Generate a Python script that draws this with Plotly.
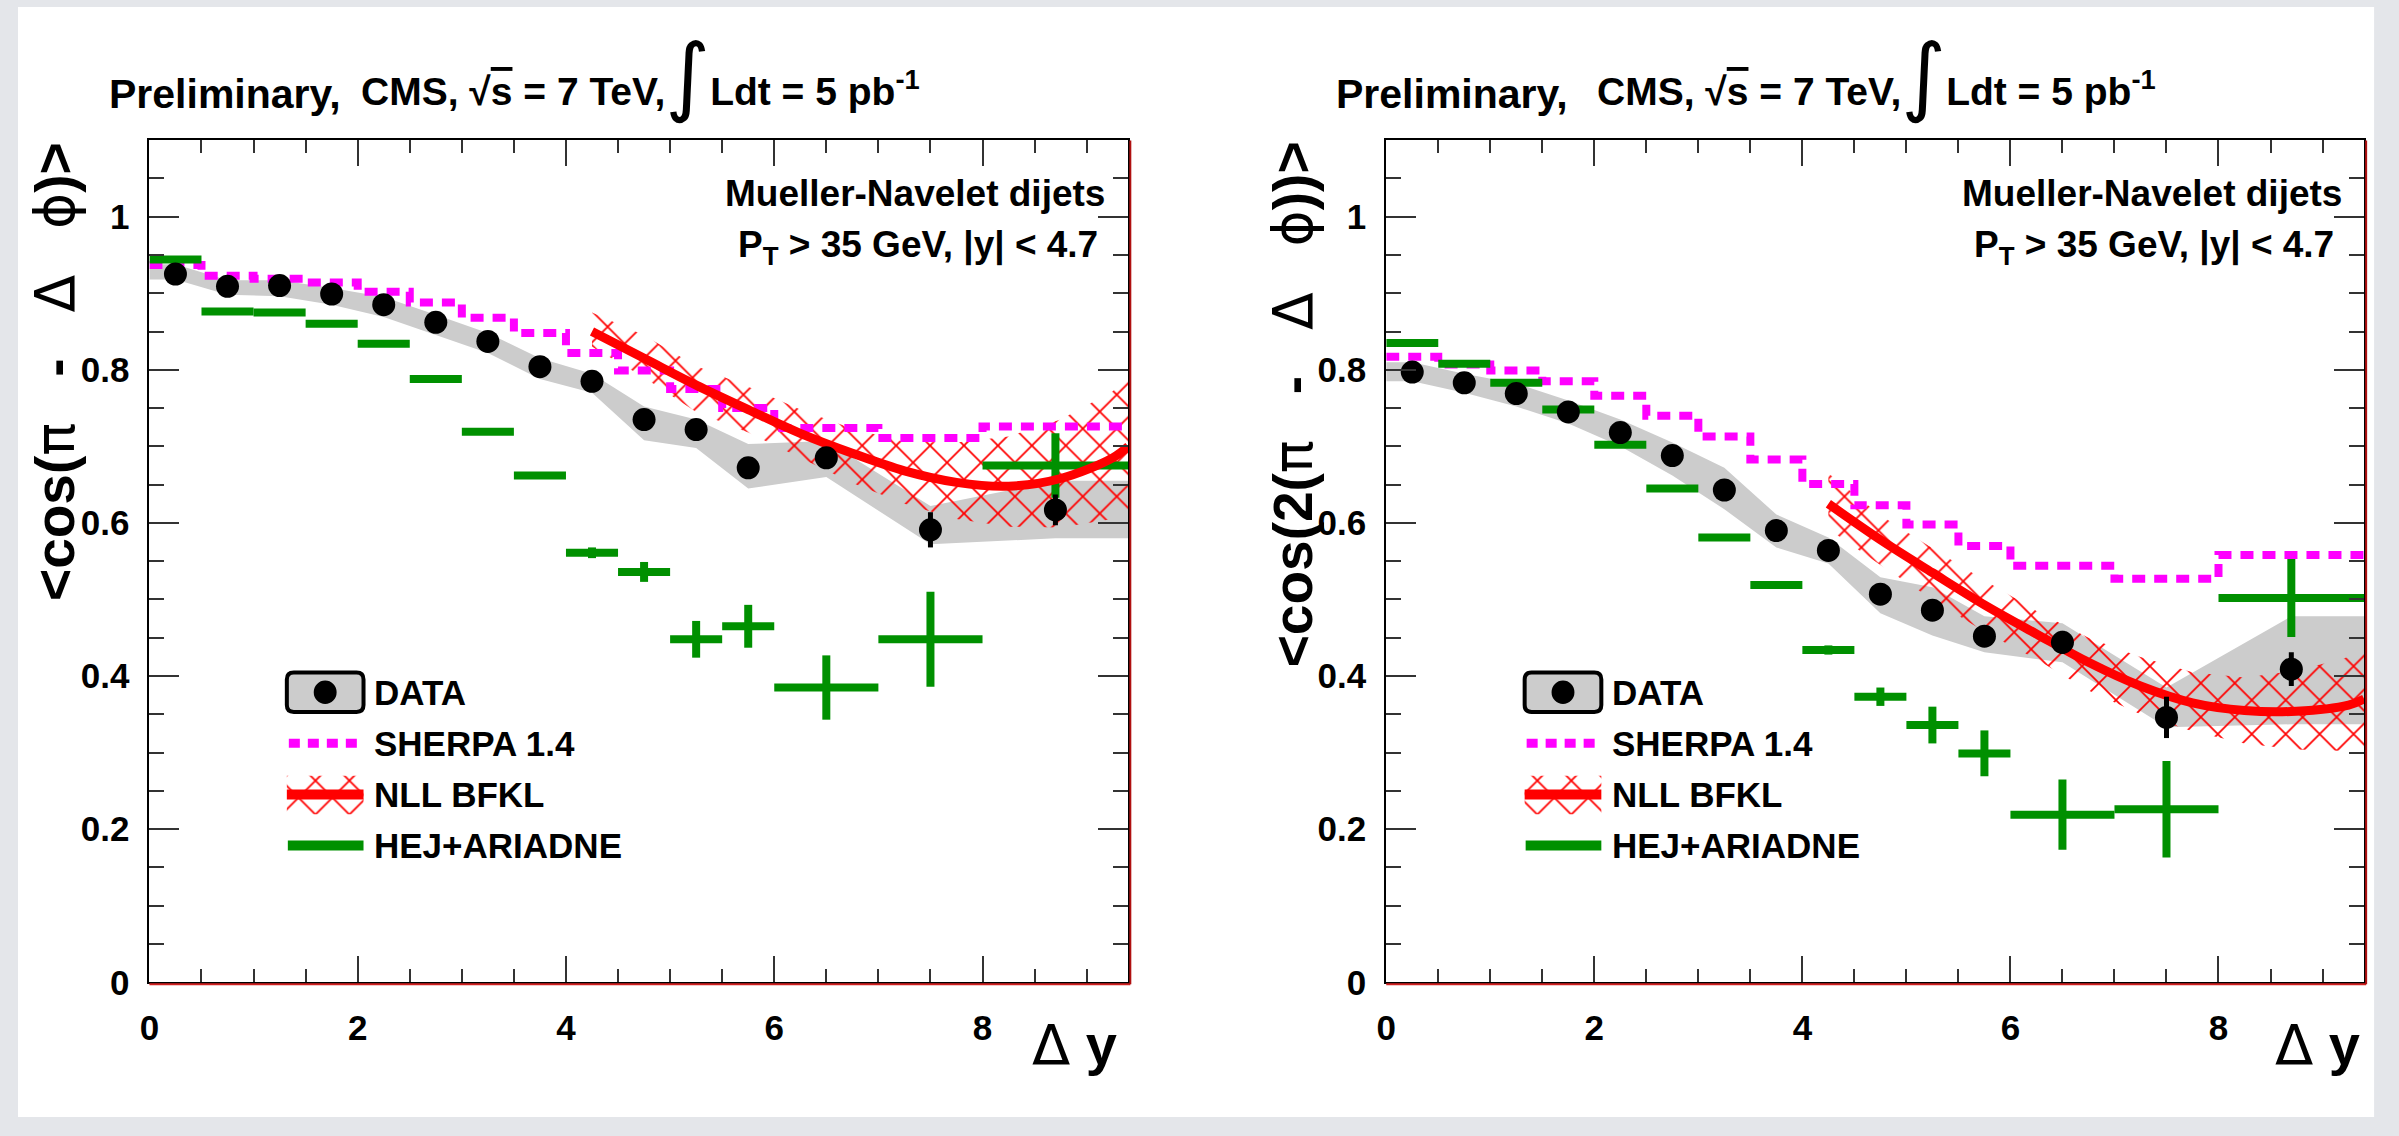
import plotly.graph_objects as go

W, H = 2399, 1136

# ------------------------------------------------------------------ data
bin_edges = [0, 0.5, 1, 1.5, 2, 2.5, 3, 3.5, 4, 4.5, 5, 5.5, 6, 7, 8, 9.4]

# left panel  <cos(pi - dphi)>
data1 = [0.925, 0.909, 0.910, 0.899, 0.885, 0.862, 0.837, 0.804, 0.785, 0.735, 0.722, 0.672, 0.685, 0.591, 0.617]
data1_err = [0.004, 0.004, 0.004, 0.004, 0.004, 0.005, 0.005, 0.005, 0.006, 0.007, 0.008, 0.009, 0.010, 0.023, 0.020]
sys1_up = [0.938, 0.917, 0.917, 0.907, 0.895, 0.872, 0.848, 0.815, 0.795, 0.752, 0.735, 0.703, 0.707, 0.622, 0.655]
sys1_lo = [0.918, 0.898, 0.896, 0.885, 0.869, 0.846, 0.822, 0.788, 0.770, 0.708, 0.698, 0.645, 0.660, 0.572, 0.580]
sherpa1 = [0.937, 0.923, 0.919, 0.914, 0.902, 0.888, 0.868, 0.848, 0.822, 0.799, 0.775, 0.750, 0.724, 0.711, 0.726]
hej1 = [0.944, 0.876, 0.875, 0.860, 0.834, 0.788, 0.719, 0.662, 0.561, 0.536, 0.448, 0.465, 0.385, 0.448, 0.675]
hej1_err = [0.002, 0.002, 0.002, 0.002, 0.002, 0.002, 0.003, 0.003, 0.007, 0.013, 0.024, 0.028, 0.042, 0.062, 0.042]

nll_x = [4.25, 4.75, 5.25, 5.75, 6.25, 6.75, 7.25, 7.75, 8.25, 8.75, 9.25, 9.4]
nll1 = [0.850, 0.815, 0.780, 0.748, 0.717, 0.691, 0.668, 0.653, 0.648, 0.658, 0.685, 0.700]
nll1_up = [0.875, 0.845, 0.805, 0.778, 0.748, 0.723, 0.706, 0.705, 0.713, 0.735, 0.772, 0.790]
nll1_lo = [0.830, 0.790, 0.745, 0.718, 0.685, 0.652, 0.625, 0.605, 0.595, 0.594, 0.605, 0.615]

# right panel  <cos(2(pi - dphi))>
data2 = [0.797, 0.783, 0.769, 0.745, 0.718, 0.688, 0.643, 0.590, 0.564, 0.507, 0.486, 0.452, 0.444, 0.346, 0.409]
data2_err = [0.004, 0.004, 0.004, 0.005, 0.005, 0.005, 0.006, 0.006, 0.007, 0.008, 0.009, 0.010, 0.015, 0.027, 0.022]
sys2_up = [0.810, 0.795, 0.782, 0.760, 0.735, 0.705, 0.672, 0.611, 0.581, 0.529, 0.516, 0.478, 0.469, 0.385, 0.478]
sys2_lo = [0.785, 0.770, 0.752, 0.730, 0.700, 0.662, 0.618, 0.568, 0.547, 0.482, 0.453, 0.431, 0.418, 0.333, 0.337]
sherpa2 = [0.817, 0.807, 0.799, 0.785, 0.766, 0.740, 0.713, 0.683, 0.651, 0.623, 0.598, 0.570, 0.544, 0.527, 0.558]
hej2 = [0.835, 0.808, 0.783, 0.748, 0.702, 0.645, 0.581, 0.519, 0.434, 0.373, 0.336, 0.299, 0.219, 0.226, 0.502]
hej2_err = [0.002, 0.002, 0.002, 0.002, 0.002, 0.002, 0.003, 0.003, 0.006, 0.012, 0.024, 0.030, 0.046, 0.063, 0.051]

nll2 = [0.625, 0.578, 0.535, 0.493, 0.455, 0.418, 0.387, 0.365, 0.355, 0.354, 0.362, 0.370]
nll2_up = [0.665, 0.610, 0.567, 0.525, 0.485, 0.450, 0.425, 0.405, 0.398, 0.407, 0.425, 0.435]
nll2_lo = [0.592, 0.545, 0.500, 0.458, 0.422, 0.381, 0.350, 0.328, 0.312, 0.304, 0.302, 0.305]

legend_labels = ["DATA", "SHERPA 1.4", "NLL BFKL", "HEJ+ARIADNE"]
x_ticks = [0, 2, 4, 6, 8]

# ------------------------------------------------------------------ style
FONT = "Liberation Sans"
GREEN = "#009000"
MAGENTA = "#ff00ff"
RED = "#ff0000"
GREY = "#cccccc"
HATCH = dict(shape="x", fgcolor=RED, bgcolor="rgba(0,0,0,0)", size=24, solidity=0.14, fgopacity=1)

centers = [(bin_edges[i] + bin_edges[i + 1]) / 2 for i in range(len(bin_edges) - 1)]
halfw = [(bin_edges[i + 1] - bin_edges[i]) / 2 for i in range(len(bin_edges) - 1)]
XMIN, XMAX = bin_edges[0], bin_edges[-1]


def px(X):
    return X / W


def py(Y):
    return 1 - Y / H


fig = go.Figure()


def add_panel(ax, data, derr, sup, slo, sherpa, hej, hejerr, nll, nup, nlo):
    xa, ya = ("x", "y") if ax == 1 else ("x2", "y2")
    # systematic band
    bx = [XMIN] + centers + [XMAX, XMAX] + centers[::-1] + [XMIN]
    by = [sup[0]] + sup + [sup[-1], slo[-1]] + slo[::-1] + [slo[0]]
    fig.add_trace(go.Scatter(x=bx, y=by, fill="toself", fillcolor=GREY, line=dict(width=0),
                             mode="lines", hoverinfo="skip", showlegend=False, xaxis=xa, yaxis=ya))
    # NLL BFKL hatched band
    hx = nll_x + nll_x[::-1]
    hy = nup + nlo[::-1]
    fig.add_trace(go.Scatter(x=hx, y=hy, fill="toself", fillcolor="rgba(0,0,0,0)", fillpattern=HATCH,
                             line=dict(width=0), mode="lines", hoverinfo="skip",
                             showlegend=False, xaxis=xa, yaxis=ya))
    # SHERPA histogram
    fig.add_trace(go.Scatter(x=bin_edges, y=sherpa + [sherpa[-1]], mode="lines",
                             line=dict(color=MAGENTA, width=8, dash="13px,9px", shape="hv"),
                             showlegend=False, xaxis=xa, yaxis=ya))
    # HEJ+ARIADNE
    fig.add_trace(go.Scatter(x=centers, y=hej, mode="markers",
                             marker=dict(size=2, color=GREEN),
                             error_x=dict(type="data", array=halfw, color=GREEN, thickness=8, width=0),
                             error_y=dict(type="data", array=hejerr, color=GREEN, thickness=8, width=0),
                             showlegend=False, xaxis=xa, yaxis=ya))
    # NLL BFKL central line
    fig.add_trace(go.Scatter(x=nll_x, y=nll, mode="lines",
                             line=dict(color=RED, width=9, shape="spline"),
                             showlegend=False, xaxis=xa, yaxis=ya))
    # DATA
    fig.add_trace(go.Scatter(x=centers, y=data, mode="markers",
                             marker=dict(size=23, color="black"),
                             error_y=dict(type="data", array=derr, color="black", thickness=5, width=0),
                             showlegend=False, xaxis=xa, yaxis=ya))


add_panel(1, data1, data1_err, sys1_up, sys1_lo, sherpa1, hej1, hej1_err, nll1, nll1_up, nll1_lo)
add_panel(2, data2, data2_err, sys2_up, sys2_lo, sherpa2, hej2, hej2_err, nll2, nll2_up, nll2_lo)

# ------------------------------------------------------------------ axes
ydom = [py(999), py(142.5)]
xdom1 = [px(140), px(1123)]
xdom2 = [px(1382), px(2364)]
tickfont = dict(family=FONT, size=35, color="black", weight="bold")

for i, dom in ((1, xdom1), (2, xdom2)):
    xkey = "xaxis" if i == 1 else "xaxis2"
    ykey = "yaxis" if i == 1 else "yaxis2"
    fig.layout[xkey] = dict(domain=dom, range=[XMIN, XMAX], tickmode="array", tickvals=x_ticks,
                            ticks="inside", ticklen=26, tickwidth=2, tickcolor="#333",
                            minor=dict(tickmode="linear", tick0=0, dtick=0.5, ticks="inside",
                                       ticklen=13, tickwidth=2, tickcolor="#333"),
                            showline=True, linewidth=2, linecolor="black", mirror="ticks",
                            showgrid=False, zeroline=False, tickfont=tickfont,
                            anchor="y" if i == 1 else "y2", ticklabelstandoff=14)
    fig.layout[ykey] = dict(domain=ydom, range=[0, 1.1], tickmode="linear", tick0=0, dtick=0.2,
                            ticks="inside", ticklen=30, tickwidth=2, tickcolor="#333",
                            minor=dict(tickmode="linear", tick0=0, dtick=0.05, ticks="inside",
                                       ticklen=15, tickwidth=2, tickcolor="#333"),
                            showline=True, linewidth=2, linecolor="black", mirror="ticks",
                            showgrid=False, zeroline=False, tickfont=tickfont,
                            anchor="x" if i == 1 else "x2", ticklabelstandoff=11)

# overlay axes in pixel units for legend glyphs
fig.layout["xaxis3"] = dict(domain=[0, 1], range=[0, W], visible=False, anchor="y3")
fig.layout["yaxis3"] = dict(domain=[0, 1], range=[H, 0], visible=False, anchor="x3")

# ------------------------------------------------------------------ shapes / annotations
shapes = []
annots = []

# page background (grey border + white sheet)
shapes.append(dict(type="rect", xref="paper", yref="paper", x0=px(8), x1=px(2374), y0=0, y1=py(7),
                   fillcolor="white", line=dict(width=0), layer="below"))

# red edge lines of the frames (bottom / right)
for x0, x1 in ((140, 1123), (1382, 2364)):
    shapes.append(dict(type="line", xref="paper", yref="paper", x0=px(x0), x1=px(x1 + 2),
                       y0=py(1001), y1=py(1001), line=dict(color="#d02020", width=2)))
    shapes.append(dict(type="line", xref="paper", yref="paper", x0=px(x1 + 2), x1=px(x1 + 2),
                       y0=py(143), y1=py(1001), line=dict(color="#b01010", width=2)))


def ann(X, Y, text, size, xanchor="left", yanchor="middle", family=FONT, weight="bold", angle=0):
    annots.append(dict(x=px(X), y=py(Y), xref="paper", yref="paper", text=text, showarrow=False,
                       xanchor=xanchor, yanchor=yanchor, textangle=angle,
                       font=dict(family=family, size=size, color="black", weight=weight)))


DJ = 'style="font-family:DejaVu Sans;font-weight:normal"'
INT = '<span style="font-family:DejaVu Sans;font-weight:normal;font-size:86px">∫</span>'
SP = "\u00a0\u00a0\u00a0"

for pre_x, cms_x in ((97, 350), (1330, 1592)):
    ann(pre_x, 96, "Preliminary,", 41)
    ann(cms_x, 129, 'CMS, √<span style="text-decoration:overline">s</span> = 7 TeV,' + INT +
        "Ldt = 5 pb<sup>-1</sup>", 39, yanchor="bottom")

for right_x1, right_x2 in ((1102, 1095), (2344, 2336)):
    ann(right_x1, 197, "Mueller-Navelet dijets", 37, xanchor="right")
    ann(right_x2, 251, "P<sub>T</sub> &gt; 35 GeV, |y| &lt; 4.7", 37, xanchor="right")

# axis titles
ann(45, 142, f'&lt;cos(<span {DJ}>π</span>{SP}-{SP}<span {DJ}>Δ</span>{SP}<span {DJ}>ϕ</span>)&gt;',
    55, xanchor="center", yanchor="top", angle=-90)
ann(1288, 142, f'&lt;cos(2(<span {DJ}>π</span>{SP}-{SP}<span {DJ}>Δ</span>{SP}<span {DJ}>ϕ</span>))&gt;',
    55, xanchor="center", yanchor="top", angle=-90)
for xr in (1114, 2362):
    ann(xr, 1062, f'<span {DJ}>Δ</span> y', 56, xanchor="right")

# legends
leg_rows = [704, 756, 808, 860]


def rounded_rect(X0, Y0, X1, Y1, r):
    pts = [f"M {px(X0 + r)},{py(Y0)}", f"L {px(X1 - r)},{py(Y0)}", f"Q {px(X1)},{py(Y0)} {px(X1)},{py(Y0 + r)}",
           f"L {px(X1)},{py(Y1 - r)}", f"Q {px(X1)},{py(Y1)} {px(X1 - r)},{py(Y1)}",
           f"L {px(X0 + r)},{py(Y1)}", f"Q {px(X0)},{py(Y1)} {px(X0)},{py(Y1 - r)}",
           f"L {px(X0)},{py(Y0 + r)}", f"Q {px(X0)},{py(Y0)} {px(X0 + r)},{py(Y0)}", "Z"]
    return " ".join(pts)


for lx in (278, 1521):
    sx0, sx1 = lx, lx + 77
    # DATA
    shapes.append(dict(type="path", xref="paper", yref="paper", path=rounded_rect(sx0, 684, sx1, 724, 7),
                       fillcolor=GREY, line=dict(color="black", width=4)))
    shapes.append(dict(type="circle", xref="paper", yref="paper", x0=px(sx0 + 27), x1=px(sx0 + 50),
                       y0=py(716), y1=py(692), fillcolor="black", line=dict(width=0)))
    # SHERPA
    shapes.append(dict(type="line", xref="paper", yref="paper", x0=px(sx0 + 2), x1=px(sx1),
                       y0=py(756), y1=py(756), line=dict(color=MAGENTA, width=9, dash="11px,8px")))
    # NLL hatch box (pixel overlay axes)
    fig.add_trace(go.Scatter(x=[sx0, sx1, sx1, sx0, sx0], y=[789, 789, 828, 828, 789], fill="toself",
                             fillcolor="rgba(0,0,0,0)", fillpattern=HATCH,
                             line=dict(width=0), mode="lines", hoverinfo="skip", showlegend=False,
                             xaxis="x3", yaxis="y3"))
    shapes.append(dict(type="line", xref="paper", yref="paper", x0=px(sx0), x1=px(sx1),
                       y0=py(808), y1=py(808), line=dict(color=RED, width=10)))
    # HEJ
    shapes.append(dict(type="line", xref="paper", yref="paper", x0=px(sx0 + 1), x1=px(sx1),
                       y0=py(860), y1=py(860), line=dict(color=GREEN, width=10)))
    for lab, ry in zip(legend_labels, leg_rows):
        ann(lx + 86, ry, lab, 35)

fig.update_layout(width=W, height=H, margin=dict(l=0, r=0, t=0, b=0),
                  paper_bgcolor="#e4e6ea", plot_bgcolor="rgba(0,0,0,0)",
                  shapes=shapes, annotations=annots, showlegend=False)

fig.write_html("out.html")
